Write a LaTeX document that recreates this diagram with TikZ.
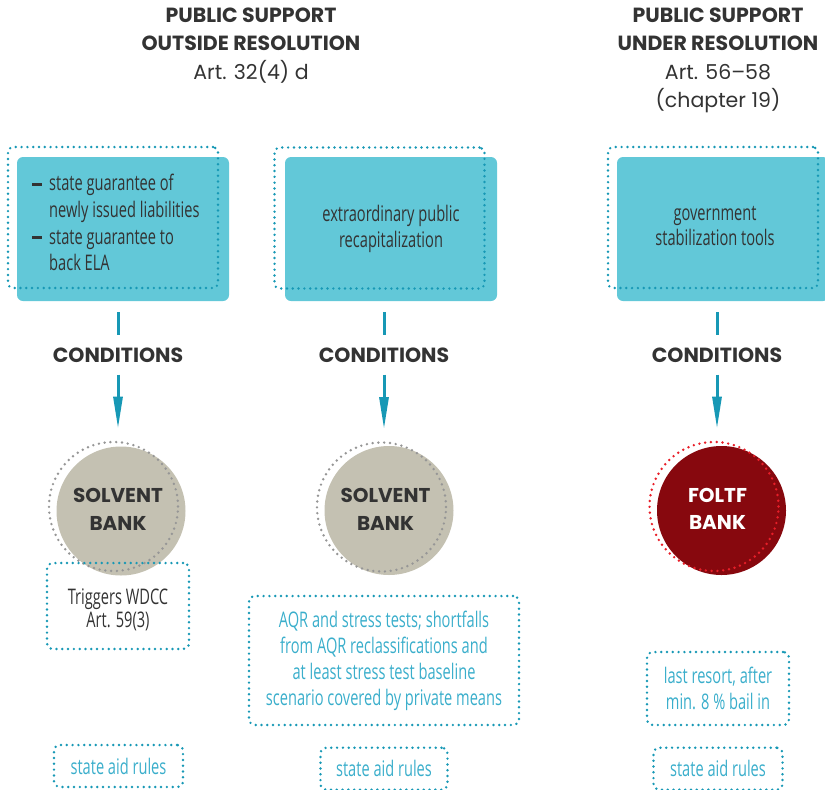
\documentclass[tikz,border=0pt]{standalone}
\usepackage{fontspec}
\setmainfont{Poppins}
\newfontfamily\narrowfont[FakeStretch=0.68]{Open Sans}
\usetikzlibrary{arrows.meta,shapes,positioning}

\definecolor{boxteal}{RGB}{98,200,216}
\definecolor{dotteal}{RGB}{23,152,181}
\definecolor{textteal}{RGB}{58,174,203}
\definecolor{solventgray}{RGB}{196,193,178}
\definecolor{ringgray}{RGB}{150,150,150}
\definecolor{foltfred}{RGB}{135,8,14}
\definecolor{ringred}{RGB}{232,30,40}
\definecolor{darktext}{RGB}{51,51,51}

\newcommand{\listdash}{\raisebox{5pt}{\rule{10pt}{3pt}}}

\begin{document}
\begin{tikzpicture}[
        x=1pt, y=-1pt,
        every node/.style={inner sep=0pt, align=center},
        dotline/.style={line width=2.7pt, line cap=round, dash pattern=on 0pt off 5.8pt},
        title/.style={anchor=north, text=darktext, font=\fontsize{20.5}{28.5}\selectfont},
        tool/.style={fill=boxteal, rounded corners=6pt, minimum width=212pt, minimum height=144pt,
            text=darktext, font=\narrowfont\fontsize{21.5}{25.5}\selectfont},
        frame/.style={draw=dotteal, dotline, rounded corners=5pt, minimum width=210pt, minimum height=141pt},
        cond/.style={text=darktext, font=\bfseries\fontsize{20.5}{23}\selectfont},
        disc/.style={circle, minimum size=129pt},
        ring/.style={circle, minimum size=129pt, dotline},
        banklabel/.style={font=\bfseries\fontsize{20}{27.5}\selectfont},
        note/.style={draw=dotteal, dotline, rounded corners=6pt, text=textteal,
            font=\narrowfont\fontsize{21.5}{26}\selectfont},
        stem/.style={draw=dotteal, line width=3pt},
        tip/.style={stem, -{Triangle[length=32pt,width=9pt]}}
    ]
    \useasboundingbox (0,0) rectangle (825,790);

    % Titles
    \node[title] (head1) at (251,7.5) {\textbf{PUBLIC SUPPORT}\\ \textbf{OUTSIDE RESOLUTION}\\ Art. 32(4) d};
    \node[title] (head3) at (718,7.5) {\textbf{PUBLIC SUPPORT}\\ \textbf{UNDER RESOLUTION}\\ Art. 56--58\\ (chapter 19)};

    % Tools
    \node[tool] (tool1) at (123,229) {};
    \node[anchor=west, text=darktext, font=\narrowfont\fontsize{21.5}{26.7}\selectfont] (list1) at (32,225.5)
        {\begin{tabular}{@{}l@{\hspace{7pt}}l@{}}
        \listdash & state guarantee of\\
                  & newly issued liabilities\\
        \listdash & state guarantee to\\
                  & back ELA
        \end{tabular}};
    \node[frame] (frame1) at (113,217.5) {};

    \node[tool] (tool2) at (391,229) {extraordinary public\\ recapitalization};
    \node[frame] (frame2) at (379.5,218) {};

    \node[tool] (tool3) at (723,229) {};
    \node[text=darktext, font=\narrowfont\fontsize{21.5}{25.5}\selectfont] (text3) at (715,226)
        {government\\ stabilization tools};
    \node[frame] (frame3) at (713,217.5) {};

    % Conditions
    \node[cond] (cond1) at (118,355) {CONDITIONS};
    \node[cond] (cond2) at (384,355) {CONDITIONS};
    \node[cond] (cond3) at (717,355) {CONDITIONS};

    % Banks
    \node[disc, fill=solventgray] (disc1) at (121,511) {};
    \node[ring, draw=ringgray] (ring1) at (113.5,506.5) {};
    \node[banklabel, text=darktext] (bank1) at (118,509.5) {SOLVENT\\ BANK};

    \node[disc, fill=solventgray] (disc2) at (389,510.5) {};
    \node[ring, draw=ringgray] (ring2) at (381.5,507) {};
    \node[banklabel, text=darktext] (bank2) at (385.5,509.5) {SOLVENT\\ BANK};

    \node[disc, fill=foltfred] (disc3) at (721.5,510.5) {};
    \node[ring, draw=ringred] (ring3) at (714,506.5) {};
    \node[banklabel, text=white] (bank3) at (717.5,509) {FOLTF\\ BANK};

    % Notes
    \node[note, minimum width=142pt, minimum height=86pt] (wdcc) at (118,606) {};
    \node[text=darktext, font=\narrowfont\fontsize{21.5}{22.5}\selectfont] (wdcctext) at (118,610)
        {Triggers WDCC\\ Art. 59(3)};
    \node[note, minimum width=270pt, minimum height=129pt] (aqr) at (384,660.5) {AQR and stress tests; shortfalls\\
        from AQR reclassifications and\\ at least stress test baseline\\ scenario covered by private means};
    \node[note, minimum width=142pt, minimum height=73pt] (resort) at (718,688.5) {last resort, after\\ min. 8~\% bail in};

    \node[note, minimum width=129pt, minimum height=42pt] (aid1) at (118.5,766) {state aid rules};
    \node[note, minimum width=127pt, minimum height=42pt, below=20pt of aqr] (aid2) {state aid rules};
    \node[note, minimum width=129pt, minimum height=42pt, below=20pt of resort] (aid3) {state aid rules};

    % Edges
    \draw[stem, shorten <=11pt, shorten >=12pt] (tool1.south -| cond1) -- (cond1.north);
    \draw[stem, shorten <=11pt, shorten >=12pt] (tool2.south -| cond2) -- (cond2.north);
    \draw[stem, shorten <=11pt, shorten >=12pt] (tool3.south -| cond3) -- (cond3.north);
    \draw[tip, shorten <=12pt, shorten >=12pt] (cond1.south) -- (cond1 |- ring1.north);
    \draw[tip, shorten <=12pt, shorten >=12pt] (cond2.south) -- (cond2 |- ring2.north);
    \draw[tip, shorten <=12pt, shorten >=12pt] (cond3.south) -- (cond3 |- ring3.north);

\end{tikzpicture}
\end{document}
